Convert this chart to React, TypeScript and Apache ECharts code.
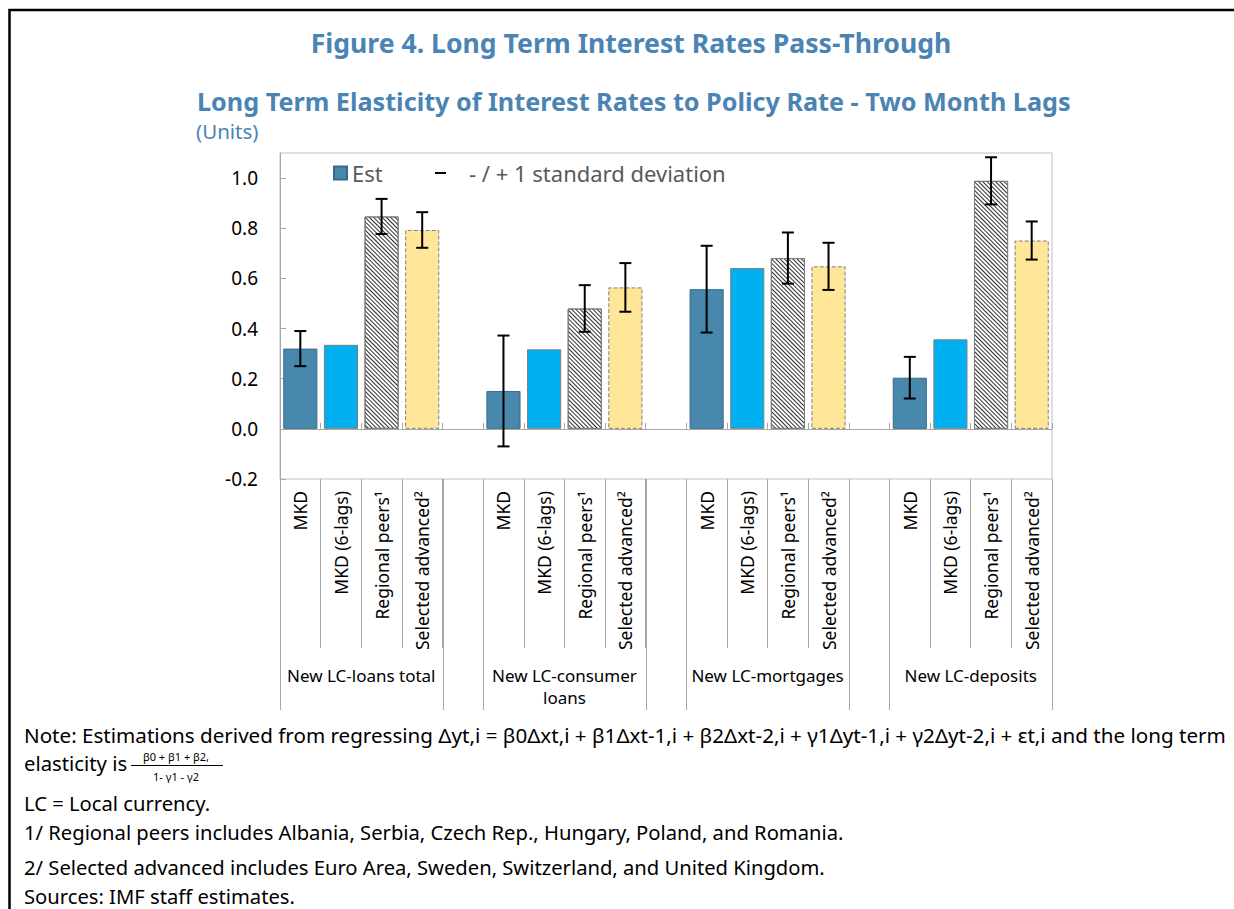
import React, { useEffect, useRef } from 'react';
import * as echarts from 'echarts';

const FONT = '"Noto Sans", "Open Sans", sans-serif';

const MAIN_TITLE = 'Figure 4. Long Term Interest Rates Pass-Through';
const SUB_TITLE = 'Long Term Elasticity of Interest Rates to Policy Rate - Two Month Lags';
const UNITS = '(Units)';

const GROUPS = ['New LC-loans total', 'New LC-consumer\nloans', 'New LC-mortgages', 'New LC-deposits'];
const BAR_LABELS = ['MKD', 'MKD (6-lags)', 'Regional peers\u00b9', 'Selected advanced\u00b2'];

const MKD_EST = [0.32, 0.151, 0.557, 0.204];
const MKD_SD = [0.07, 0.221, 0.173, 0.083];
const MKD_6LAGS = [0.335, 0.317, 0.641, 0.357];
const REGIONAL = [0.847, 0.48, 0.681, 0.989];
const REGIONAL_SD = [0.07, 0.093, 0.102, 0.094];
const SELECTED = [0.793, 0.564, 0.648, 0.751];
const SELECTED_SD = [0.071, 0.097, 0.094, 0.076];

const Y_TICKS = [-0.2, 0, 0.2, 0.4, 0.6, 0.8, 1.0];

const LEGEND_EST = 'Est';
const LEGEND_SD = '- / + 1 standard deviation';

const NOTE_1 = 'Note: Estimations derived from regressing \u0394yt,i = \u03b20\u0394xt,i + \u03b21\u0394xt-1,i + \u03b22\u0394xt-2,i + \u03b31\u0394yt-1,i + \u03b32\u0394yt-2,i + \u03b5t,i and the long term';
const NOTE_2 = 'elasticity is';
const FRAC_NUM = '\u03b20 + \u03b21 + \u03b22,';
const FRAC_DEN = '1- \u03b31 - \u03b32';
const NOTES_REST = [
  'LC = Local currency.',
  '1/ Regional peers includes Albania, Serbia, Czech Rep., Hungary, Poland, and Romania.',
  '2/ Selected advanced includes Euro Area, Sweden, Switzerland, and United Kingdom.',
  'Sources: IMF staff estimates.',
];

const TITLE_COLOR = '#4a84b4';
const AXIS_GRAY = '#a6a6a6';

function styleFor(k: number): any {
  if (k === 0) return { color: '#4888ad', borderColor: '#3a6a88', borderWidth: 1 };
  if (k === 1) return { color: '#00b0f0', borderColor: '#7f7f7f', borderWidth: 1 };
  if (k === 2)
    return {
      color: '#ffffff',
      borderColor: '#7f7f7f',
      borderWidth: 1,
      decal: {
        symbol: 'rect',
        symbolSize: 1,
        color: '#2e2e2e',
        dashArrayX: [1, 0],
        dashArrayY: [1, 2],
        rotation: Math.PI / 4,
      },
    };
  return { color: '#ffe699', borderColor: '#7f7f7f', borderWidth: 1, borderType: 'dashed' };
}

export default function App() {
  const ref = useRef<HTMLDivElement>(null);

  useEffect(() => {
    const chart = echarts.init(ref.current!, null, { renderer: 'svg' });

    const cats: string[] = [];
    const barData: any[] = [];
    const errData: number[][] = [];
    GROUPS.forEach((_, gi) => {
      const vals = [MKD_EST[gi], MKD_6LAGS[gi], REGIONAL[gi], SELECTED[gi]];
      const sds = [MKD_SD[gi], null, REGIONAL_SD[gi], SELECTED_SD[gi]];
      vals.forEach((v, k) => {
        const idx = cats.length;
        cats.push(BAR_LABELS[k]);
        barData.push({ value: v, itemStyle: styleFor(k) });
        const sd = sds[k];
        if (sd != null) errData.push([idx, v - sd, v + sd]);
      });
      if (gi < GROUPS.length - 1) {
        cats.push('');
        barData.push('-');
      }
    });

    const textBase = { fontFamily: FONT };

    const staticGraphics: any[] = [
      {
        type: 'rect',
        silent: true,
        shape: { x: 9.5, y: 10, width: 1260, height: 960 },
        style: { fill: 'none', stroke: '#000', lineWidth: 2.5 },
      },
      {
        type: 'text',
        x: 631,
        y: 43,
        style: { ...textBase, text: MAIN_TITLE, fontSize: 26.6, fontWeight: 'bold', fill: TITLE_COLOR, align: 'center', verticalAlign: 'middle' },
      },
      {
        type: 'text',
        x: 197,
        y: 101,
        style: { ...textBase, text: SUB_TITLE, fontSize: 25.2, fontWeight: 'bold', fill: TITLE_COLOR, align: 'left', verticalAlign: 'middle' },
      },
      {
        type: 'text',
        x: 196,
        y: 131,
        style: { ...textBase, text: UNITS, fontSize: 20.5, fill: TITLE_COLOR, align: 'left', verticalAlign: 'middle' },
      },
      {
        type: 'text',
        x: 24,
        y: 735,
        style: { ...textBase, text: NOTE_1, fontSize: 20.6, fill: '#000', align: 'left', verticalAlign: 'middle' },
      },
      {
        type: 'text',
        x: 24,
        y: 763,
        style: { ...textBase, text: NOTE_2, fontSize: 20.3, fill: '#000', align: 'left', verticalAlign: 'middle' },
      },
      {
        type: 'text',
        x: 176,
        y: 756,
        style: { ...textBase, text: FRAC_NUM, fontSize: 11, fill: '#000', align: 'center', verticalAlign: 'middle' },
      },
      {
        type: 'line',
        shape: { x1: 131, y1: 765.5, x2: 223, y2: 765.5 },
        style: { stroke: '#000', lineWidth: 1 },
      },
      {
        type: 'text',
        x: 176,
        y: 776,
        style: { ...textBase, text: FRAC_DEN, fontSize: 11, fill: '#000', align: 'center', verticalAlign: 'middle' },
      },
      ...NOTES_REST.map((t, i) => ({
        type: 'text',
        x: 24,
        y: [803, 832, 867, 896][i],
        style: { ...textBase, text: t, fontSize: 20.2, fill: '#000', align: 'left', verticalAlign: 'middle' },
      })),
    ];

    const option: any = {
      animation: false,
      backgroundColor: '#ffffff',
      textStyle: { fontFamily: FONT },
      grid: {
        left: 280,
        right: 182,
        top: 153,
        bottom: 430,
        show: true,
        borderColor: '#bfbfbf',
        borderWidth: 1,
        containLabel: false,
      },
      legend: [
        {
          data: [{ name: LEGEND_EST, icon: 'rect' }],
          left: 328,
          top: 157,
          itemWidth: 13,
          itemHeight: 13,
          textStyle: { fontFamily: FONT, fontSize: 22, color: '#595959' },
        },
        {
          data: [
            {
              name: LEGEND_SD,
              icon: 'path://M0,0L0.01,0L0.01,0.01Z M1,5.5L12,5.5L12,7.5L1,7.5Z M29.99,12.99L30,12.99L30,13Z',
            },
          ],
          left: 429,
          top: 157,
          itemWidth: 30,
          itemHeight: 13,
          textStyle: { fontFamily: FONT, fontSize: 22, color: '#595959' },
        },
      ],
      xAxis: [
        {
          type: 'category',
          data: cats,
          position: 'bottom',
          axisLine: { show: true, onZero: true, lineStyle: { color: AXIS_GRAY, width: 1 } },
          axisTick: { show: true, inside: true, length: 6, interval: 0, lineStyle: { color: AXIS_GRAY } },
          axisLabel: { show: false },
          splitLine: { show: false },
        },
        {
          type: 'category',
          data: cats,
          position: 'bottom',
          axisLine: { show: false, onZero: false },
          axisTick: { show: true, inside: false, length: 169, interval: 0, lineStyle: { color: AXIS_GRAY } },
          axisLabel: {
            show: true,
            interval: 0,
            rotate: 90,
            margin: 12,
            fontFamily: FONT,
            fontSize: 17.5,
            color: '#000',
          },
          splitLine: { show: false },
        },
      ],
      yAxis: {
        type: 'value',
        min: -0.2,
        max: 1.1,
        interval: 0.2,
        axisLine: { show: true, lineStyle: { color: AXIS_GRAY } },
        axisTick: { show: true, inside: true, length: 6, customValues: Y_TICKS, lineStyle: { color: AXIS_GRAY } },
        axisLabel: {
          customValues: Y_TICKS,
          formatter: (v: number) => v.toFixed(1),
          fontFamily: FONT,
          fontSize: 19,
          color: '#000',
          margin: 22,
        },
        splitLine: { show: false },
      },
      series: [
        {
          name: LEGEND_EST,
          type: 'bar',
          xAxisIndex: 0,
          barWidth: '84%',
          itemStyle: { color: '#4888ad', borderColor: '#3a6a88', borderWidth: 1 },
          data: barData,
          z: 2,
        },
        {
          name: LEGEND_SD,
          type: 'custom',
          xAxisIndex: 0,
          itemStyle: { color: '#000' },
          encode: { x: 0, y: [1, 2] },
          data: errData,
          z: 5,
          renderItem: (params: any, api: any) => {
            const x = api.value(0);
            const top = api.coord([x, api.value(2)]);
            const bot = api.coord([x, api.value(1)]);
            const half = 6;
            const st = { stroke: '#000', lineWidth: 2 };
            return {
              type: 'group',
              children: [
                { type: 'line', shape: { x1: top[0], y1: top[1], x2: bot[0], y2: bot[1] }, style: st },
                { type: 'line', shape: { x1: top[0] - half, y1: top[1], x2: top[0] + half, y2: top[1] }, style: st },
                { type: 'line', shape: { x1: bot[0] - half, y1: bot[1], x2: bot[0] + half, y2: bot[1] }, style: st },
              ],
            };
          },
        },
      ],
      graphic: staticGraphics,
    };

    chart.setOption(option);

    // Separator lines and group labels below the axis, placed through the axis scale
    const px = (i: number) => chart.convertToPixel({ xAxisIndex: 0 }, i) as number;
    const bw = px(1) - px(0);
    const yBottom = chart.convertToPixel({ yAxisIndex: 0 }, -0.2) as number;
    const extra: any[] = [];
    GROUPS.forEach((g, gi) => {
      const s = gi * 5;
      const xl = px(s) - bw / 2;
      const xr = px(s + 3) + bw / 2;
      [xl, xr].forEach((xx) => {
        const xr2 = Math.round(xx) + 0.5;
        extra.push({
          type: 'line',
          silent: true,
          shape: { x1: xr2, y1: yBottom, x2: xr2, y2: yBottom + 231 },
          style: { stroke: AXIS_GRAY, lineWidth: 1 },
        });
      });
      extra.push({
        type: 'text',
        x: (px(s + 1) + px(s + 2)) / 2,
        y: yBottom + 185,
        style: {
          fontFamily: FONT,
          text: g,
          fontSize: 17,
          lineHeight: 22,
          fill: '#000',
          align: 'center',
          verticalAlign: 'top',
        },
      });
    });
    chart.setOption({ graphic: [...staticGraphics, ...extra] });

    return () => chart.dispose();
  }, []);

  return (
    <div
      ref={ref}
      style={{ position: 'fixed', left: 0, top: 0, width: 1234, height: 909, background: '#fff' }}
    />
  );
}
